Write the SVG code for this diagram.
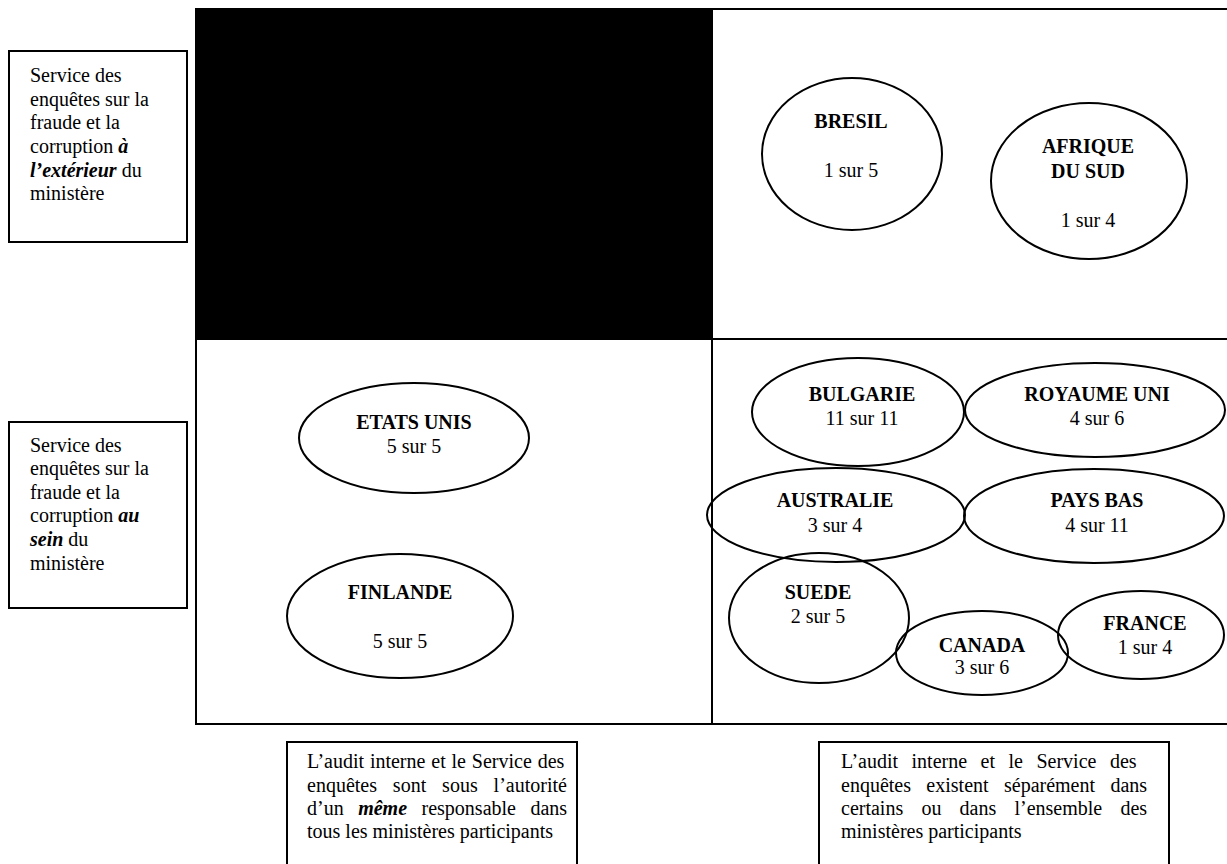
<svg xmlns="http://www.w3.org/2000/svg" width="1227" height="864" viewBox="0 0 1227 864">
<style>
  text { font-family: "Liberation Serif", "Times New Roman", serif; font-size: 20px; fill: #000; }
  .c { text-anchor: middle; }
  .b { font-weight: bold; }
  .bi { font-weight: bold; font-style: italic; }
  .box { fill: #fff; stroke: #000; stroke-width: 2; }
  .grid { stroke: #000; stroke-width: 2; fill: none; }
  .ov { fill: none; stroke: #000; stroke-width: 2; }
</style>
<rect width="1227" height="864" fill="#fff"/>

<g id="grid">
  <rect x="195" y="8" width="517" height="331" fill="#000"/>
  <line class="grid" x1="195" y1="9" x2="1227" y2="9"/>
  <line class="grid" x1="196" y1="8" x2="196" y2="725"/>
  <line class="grid" x1="712" y1="8" x2="712" y2="725"/>
  <line class="grid" x1="195" y1="339" x2="1227" y2="339"/>
  <line class="grid" x1="195" y1="724" x2="1227" y2="724"/>
</g>

<g id="label-exterieur">
  <rect class="box" x="9" y="51" width="178" height="191"/>
  <text x="30" y="82">Service des</text>
  <text x="30" y="106">enquêtes sur la</text>
  <text x="30" y="129">fraude et la</text>
  <text x="30" y="153">corruption <tspan class="bi">à</tspan></text>
  <text x="30" y="177"><tspan class="bi">l’extérieur</tspan> du</text>
  <text x="30" y="200">ministère</text>
</g>

<g id="label-sein">
  <rect class="box" x="9" y="422" width="178" height="186"/>
  <text x="30" y="452">Service des</text>
  <text x="30" y="475">enquêtes sur la</text>
  <text x="30" y="499">fraude et la</text>
  <text x="30" y="522">corruption <tspan class="bi">au</tspan></text>
  <text x="30" y="546"><tspan class="bi">sein</tspan> du</text>
  <text x="30" y="570">ministère</text>
</g>

<g id="label-meme">
  <rect class="box" x="287" y="742" width="290" height="140"/>
  <text x="307" y="768" word-spacing="0.85">L’audit interne et le Service des</text>
  <text x="307" y="792" word-spacing="10.9">enquêtes sont sous l’autorité</text>
  <text x="307" y="815" word-spacing="9.5">d’un <tspan class="bi">même</tspan> responsable dans</text>
  <text x="307" y="838">tous les ministères participants</text>
</g>

<g id="label-separement">
  <rect class="box" x="819" y="742" width="350" height="140"/>
  <text x="841" y="768" word-spacing="8.5">L’audit interne et le Service des</text>
  <text x="841" y="792" word-spacing="10.4">enquêtes existent séparément dans</text>
  <text x="841" y="815" word-spacing="13.2">certains ou dans l’ensemble des</text>
  <text x="841" y="838">ministères participants</text>
</g>

<g id="bresil">
  <ellipse class="ov" cx="852" cy="154" rx="90" ry="76"/>
  <text class="c b" x="851" y="128">BRESIL</text>
  <text class="c" x="851" y="177">1 sur 5</text>
</g>

<g id="afrique-du-sud">
  <ellipse class="ov" cx="1089" cy="181" rx="98" ry="78"/>
  <text class="c b" x="1088" y="153">AFRIQUE</text>
  <text class="c b" x="1088" y="178">DU SUD</text>
  <text class="c" x="1088" y="227">1 sur 4</text>
</g>

<g id="etats-unis">
  <ellipse class="ov" cx="414" cy="438" rx="115" ry="55"/>
  <text class="c b" x="414" y="429">ETATS UNIS</text>
  <text class="c" x="414" y="453">5 sur 5</text>
</g>

<g id="finlande">
  <ellipse class="ov" cx="400" cy="616" rx="113" ry="62"/>
  <text class="c b" x="400" y="599">FINLANDE</text>
  <text class="c" x="400" y="648">5 sur 5</text>
</g>

<g id="bulgarie">
  <ellipse class="ov" cx="858" cy="412" rx="106" ry="54"/>
  <text class="c b" x="862" y="401">BULGARIE</text>
  <text class="c" x="862" y="425">11 sur 11</text>
</g>

<g id="royaume-uni">
  <ellipse class="ov" cx="1095" cy="410" rx="130" ry="47"/>
  <text class="c b" x="1097" y="401">ROYAUME UNI</text>
  <text class="c" x="1097" y="425">4 sur 6</text>
</g>

<g id="australie">
  <ellipse class="ov" cx="836" cy="515" rx="129" ry="47"/>
  <text class="c b" x="835" y="507">AUSTRALIE</text>
  <text class="c" x="835" y="532">3 sur 4</text>
</g>

<g id="pays-bas">
  <ellipse class="ov" cx="1094" cy="516" rx="130" ry="47"/>
  <text class="c b" x="1097" y="507">PAYS BAS</text>
  <text class="c" x="1097" y="532">4 sur 11</text>
</g>

<g id="suede">
  <ellipse class="ov" cx="819" cy="618" rx="90" ry="65"/>
  <text class="c b" x="818" y="599">SUEDE</text>
  <text class="c" x="818" y="623">2 sur 5</text>
</g>

<g id="canada">
  <ellipse class="ov" cx="982" cy="653" rx="86" ry="42"/>
  <text class="c b" x="982" y="652">CANADA</text>
  <text class="c" x="982" y="674">3 sur 6</text>
</g>

<g id="france">
  <ellipse class="ov" cx="1141" cy="635" rx="83" ry="44"/>
  <text class="c b" x="1145" y="630">FRANCE</text>
  <text class="c" x="1145" y="654">1 sur 4</text>
</g>

<g id="connectors"></g>
</svg>
